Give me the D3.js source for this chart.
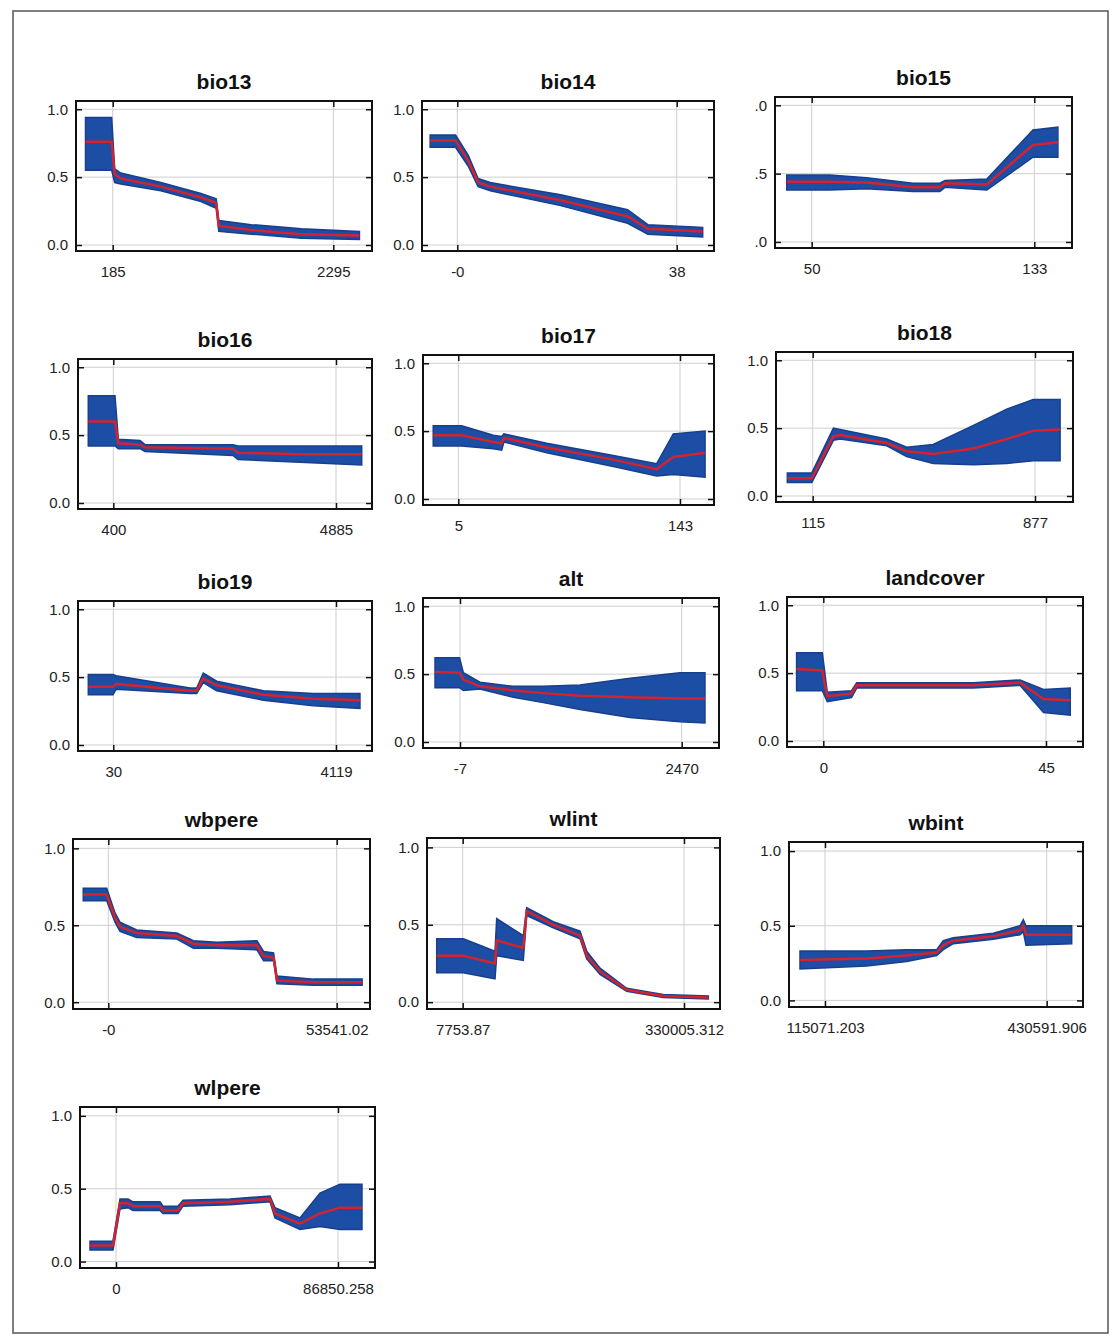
<!DOCTYPE html>
<html>
<head>
<meta charset="utf-8">
<script src="https://cdn.jsdelivr.net/npm/d3@7"></script>
<style>
  body { margin: 0; background: #fff; }
  text { font-family: "Liberation Sans", Arial, sans-serif; }
</style>
</head>
<body>
<div id="chart"></div>
<script>
// Response curves: [x, mean, lower, upper]
var bio13 = [[-75,.76,.55,.94],[175,.76,.55,.94],[204,.52,.46,.56],[262,.49,.45,.53],[645,.43,.40,.46],
  [1030,.35,.32,.38],[1175,.31,.27,.34],[1200,.14,.10,.18],[1510,.11,.08,.15],[1990,.08,.05,.12],[2545,.07,.04,.10]];
var bio14 = [[-4.7,.77,.72,.81],[-0.3,.77,.72,.81],[1.9,.62,.58,.66],[3.6,.46,.43,.49],[5.7,.43,.40,.46],
  [17.9,.33,.29,.37],[29.5,.21,.16,.26],[33,.12,.08,.15],[42.5,.10,.06,.13]];
var bio15 = [[40.7,.44,.38,.49],[56.7,.44,.38,.49],[70.5,.435,.39,.47],[87.8,.40,.37,.43],[97.8,.40,.37,.43],
  [99.7,.43,.40,.45],[115.3,.42,.38,.46],[132.5,.71,.62,.82],[141.8,.73,.62,.84]];
var bio16 = [[-104,.60,.42,.79],[434,.60,.42,.79],[501,.44,.40,.47],[938,.43,.40,.46],[1038,.41,.38,.43],
  [2811,.40,.35,.43],[2911,.37,.32,.42],[4160,.36,.30,.42],[5403,.36,.28,.42]];
var bio17 = [[-10.6,.47,.39,.54],[7.1,.47,.39,.54],[26.8,.42,.37,.47],[32,.41,.36,.46],[33.4,.45,.42,.48],
  [60,.38,.34,.41],[101.5,.29,.24,.32],[128.5,.22,.17,.26],[138.8,.31,.18,.48],[158.6,.34,.16,.50]];
var bio18 = [[28,.13,.10,.17],[112,.13,.10,.17],[186,.44,.41,.50],[209,.45,.42,.49],[369,.39,.37,.42],
  [437,.33,.29,.36],[528,.31,.24,.38],[666,.35,.23,.52],[780,.42,.24,.64],[871,.48,.26,.71],[963,.49,.26,.71]];
var bio19 = [[-429,.43,.37,.52],[25,.43,.37,.52],[80,.45,.41,.51],[1438,.40,.38,.42],[1561,.40,.38,.42],
  [1682,.49,.46,.53],[1928,.44,.40,.47],[2784,.37,.33,.40],[3702,.34,.29,.38],[4559,.33,.27,.38]];
var alt = [[-286,.515,.40,.62],[-12,.51,.40,.62],[30,.46,.38,.51],[216,.41,.39,.44],[588,.38,.33,.41],
  [923,.36,.29,.41],[1333,.34,.24,.42],[1892,.33,.18,.47],[2450,.32,.15,.51],[2730,.32,.14,.51]];
var landcover = [[-5.4,.53,.37,.65],[-0.2,.52,.37,.65],[0.8,.33,.29,.36],[5.7,.35,.32,.37],[6.75,.41,.39,.43],
  [30.3,.41,.39,.43],[39.75,.43,.41,.45],[44.5,.31,.21,.38],[49.9,.30,.19,.39]];
var wbpere = [[-5870,.70,.66,.74],[-376,.70,.66,.74],[1573,.55,.52,.58],[2747,.49,.46,.52],[6668,.45,.42,.47],
  [16060,.43,.41,.45],[19958,.38,.35,.40],[25452,.37,.35,.39],[34844,.37,.34,.40],[36394,.30,.27,.33],
  [38742,.29,.27,.32],[39540,.14,.12,.17],[48134,.13,.11,.15],[59498,.13,.11,.15]];
var wlint = [[-30107,.30,.19,.41],[8628,.30,.19,.41],[54790,.25,.15,.33],[57265,.40,.30,.54],[96001,.35,.27,.43],
  [100951,.59,.56,.61],[139686,.50,.48,.52],[178567,.43,.41,.46],[188323,.30,.28,.33],[207690,.20,.18,.22],
  [246572,.08,.07,.09],[299869,.04,.03,.05],[365398,.03,.02,.04]];
var wbint = [[79491,.27,.21,.33],[174419,.28,.23,.33],[231346,.30,.26,.34],[274043,.32,.30,.34],[283436,.37,.34,.40],
  [297668,.40,.38,.42],[354597,.43,.41,.45],[392595,.47,.44,.50],[397292,.50,.46,.54],[401135,.44,.37,.50],
  [466174,.44,.38,.50]];
var wlpere = [[-10171,.11,.08,.14],[-1174,.11,.08,.14],[1565,.40,.36,.43],[4694,.40,.37,.43],[6650,.38,.35,.41],
  [17213,.38,.35,.41],[18386,.35,.33,.38],[24254,.35,.33,.38],[26210,.40,.38,.42],[44597,.41,.39,.43],
  [60245,.43,.41,.45],[62201,.33,.30,.37],[71981,.26,.22,.30],[79805,.33,.24,.47],[87629,.37,.22,.53],
  [96235,.37,.22,.53]];

var panelNames = ["bio13","bio14","bio15","bio16","bio17","bio18","bio19","alt","landcover",
  "wbpere","wlint","wbint","wlpere"];
var panelData = [bio13, bio14, bio15, bio16, bio17, bio18, bio19, alt, landcover, wbpere, wlint, wbint, wlpere];

var xTickValues = [[185,2295],[0,38],[50,133],[400,4885],[5,143],[115,877],[30,4119],[-7,2470],[0,45],
  [0,53541.02],[7753.87,330005.312],[115071.203,430591.906],[0,86850.258]];
var xTickLabels = [["185","2295"],["-0","38"],["50","133"],["400","4885"],["5","143"],["115","877"],
  ["30","4119"],["-7","2470"],["0","45"],["-0","53541.02"],["7753.87","330005.312"],
  ["115071.203","430591.906"],["0","86850.258"]];

var yTickValues = [0, 0.5, 1];
var yTickLabels = ["0.0", "0.5", "1.0"];
var yTickLabelsCut = [".0", ".5", ".0"];   // bio15: first digit cut off in the original

// layout: [boxX, boxY, boxW, boxH, tick0 px, tick1 px]
var panelBoxes = [
  [76,101,296,150,112.7,333.3], [422,101,292,150,457.3,676.7], [775,97,297,151,811.7,1034.3],
  [78,359,294,150,113.3,336], [423,355,291,150,458.3,680], [776,352,297,150,812.7,1035],
  [78,601,294,150,113.3,336], [423,598,296,150,460,681.7], [787,597,296,150,823.3,1046],
  [73,839,297,170,108.3,336.7], [427,838,293,171,462.7,684], [789,842,294,165,825,1046.7],
  [80,1107,295,161,116,338]
];

var svg = d3.select("#chart")
  .append("svg")
  .attr("width", 1113)
  .attr("height", 1336);

svg.append("rect")
  .attr("width", 1113).attr("height", 1336)
  .attr("fill", "#fff");

// outer frame
svg.append("rect")
  .attr("x", 13).attr("y", 11)
  .attr("width", 1095).attr("height", 1322)
  .attr("fill", "none")
  .attr("stroke", "#555")
  .attr("stroke-width", 1.5);

panelNames.forEach(function(name, i) {
  var b = panelBoxes[i];
  var left = b[0], top = b[1], w = b[2], h = b[3];
  var bottom = top + h, right = left + w;

  var xScale = d3.scaleLinear().domain(xTickValues[i]).range([b[4], b[5]]);
  var yScale = d3.scaleLinear().domain([0, 1]).range([bottom - 0.04 * h, top + 0.055 * h]);

  var g = svg.append("g");

  g.append("clipPath").attr("id", "clip" + i)
    .append("rect").attr("x", left).attr("y", top).attr("width", w).attr("height", h);

  // grid
  g.selectAll(".hgrid").data(yTickValues).enter().append("line")
    .attr("x1", left).attr("x2", right)
    .attr("y1", d => yScale(d)).attr("y2", d => yScale(d))
    .attr("stroke", "#cfcfcf").attr("stroke-width", 1);
  g.selectAll(".vgrid").data(xTickValues[i]).enter().append("line")
    .attr("x1", d => xScale(d)).attr("x2", d => xScale(d))
    .attr("y1", top).attr("y2", bottom)
    .attr("stroke", "#cfcfcf").attr("stroke-width", 1);

  // confidence band
  var band = d3.area()
    .x(d => xScale(d[0]))
    .y0(d => yScale(d[2]))
    .y1(d => yScale(d[3]));
  g.append("path")
    .datum(panelData[i])
    .attr("clip-path", "url(#clip" + i + ")")
    .attr("d", band)
    .attr("fill", "#1d4ea6")
    .attr("stroke", "#173f8c")
    .attr("stroke-width", 1.5);

  // mean response
  var line = d3.line()
    .x(d => xScale(d[0]))
    .y(d => yScale(d[1]));
  g.append("path")
    .datum(panelData[i])
    .attr("clip-path", "url(#clip" + i + ")")
    .attr("d", line)
    .attr("fill", "none")
    .attr("stroke", "#d2232e")
    .attr("stroke-width", 2.5);

  // axes
  var yLabels = name === "bio15" ? yTickLabelsCut : yTickLabels;
  var leftAxis = d3.axisLeft(yScale).tickValues(yTickValues)
    .tickFormat((d, j) => yLabels[j]).tickSizeInner(-6).tickSizeOuter(0).tickPadding(8);
  var rightAxis = d3.axisRight(yScale).tickValues(yTickValues)
    .tickFormat("").tickSizeInner(-6).tickSizeOuter(0);
  var bottomAxis = d3.axisBottom(xScale).tickValues(xTickValues[i])
    .tickFormat((d, j) => xTickLabels[i][j]).tickSizeInner(-6).tickSizeOuter(0).tickPadding(15);
  var topAxis = d3.axisTop(xScale).tickValues(xTickValues[i])
    .tickFormat("").tickSizeInner(-6).tickSizeOuter(0);

  [[leftAxis, `translate(${left},0)`], [rightAxis, `translate(${right},0)`],
   [bottomAxis, `translate(0,${bottom})`], [topAxis, `translate(0,${top})`]].forEach(function(a) {
    var ax = g.append("g").attr("transform", a[1]).call(a[0]);
    ax.select(".domain").remove();
    ax.selectAll("line").attr("stroke", "#111").attr("stroke-width", 1.5);
    ax.selectAll("text")
      .attr("fill", "#222")
      .style("font-size", "15px")
      .style("font-family", "'Liberation Sans', Arial, sans-serif");
  });

  // border
  g.append("rect")
    .attr("x", left).attr("y", top)
    .attr("width", w).attr("height", h)
    .attr("fill", "none")
    .attr("stroke", "#111")
    .attr("stroke-width", 2);

  // title
  g.append("text")
    .attr("x", left + w / 2)
    .attr("y", top - 12)
    .attr("text-anchor", "middle")
    .style("font-size", "21px")
    .style("font-weight", "bold")
    .attr("fill", "#111")
    .text(name);
});
</script>
</body>
</html>
